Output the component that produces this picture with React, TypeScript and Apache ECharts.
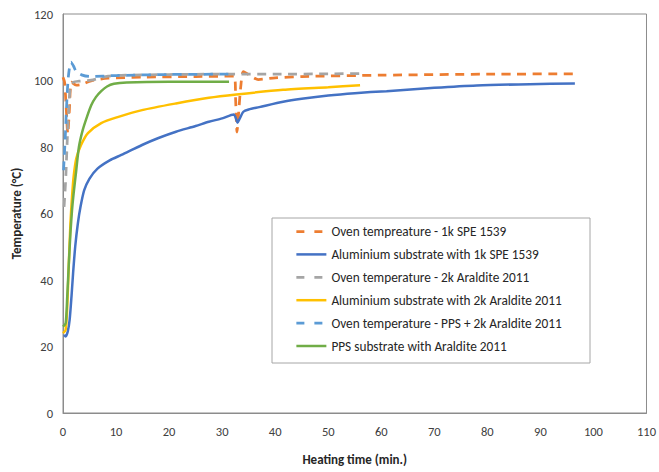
import React, { useEffect, useRef } from "react";
import * as echarts from "echarts";

const FONT = "Carlito, Lato, 'Noto Sans', sans-serif";

// Oven tempreature - 1k SPE 1539
const ovenSpeTime = [0, 0.3, 0.6, 0.9, 1.2, 1.6, 2.5, 3.5, 5.3, 8.5, 15, 25, 32.3, 32.55, 32.8, 33.1, 33.5, 34, 35, 36.8, 40, 45, 60, 80, 97];
const ovenSpeTemp = [101, 99.5, 92, 84, 91, 99.5, 98.6, 98.8, 99.9, 100.7, 101, 101.2, 101.3, 94, 84.5, 90, 98, 102.7, 101.8, 100.3, 100.8, 101.2, 101.6, 101.9, 102];

// Aluminium substrate with 1k SPE 1539
const aluSpeTime = [0.2, 0.5, 0.9, 1.25, 1.6, 1.9, 2.3, 2.8, 3.3, 4, 5, 6.5, 8.8, 11, 14.9, 18, 21.3, 25, 27.5, 30, 32.2, 32.6, 32.9, 33.3, 34, 35, 37, 41.5, 45, 50, 55, 61, 70, 78, 88, 96.5];
const aluSpeTemp = [23.5, 23, 24.5, 28, 35, 42, 50, 57, 62, 67, 70.5, 73.5, 76, 77.6, 80.6, 82.7, 84.6, 86.3, 87.6, 88.6, 89.8, 88.6, 87.3, 88.5, 90.6, 91.3, 92, 93.6, 94.5, 95.5, 96.2, 96.8, 97.8, 98.5, 98.9, 99.1];

// Oven temperature - 2k Araldite 2011
const ovenAralTime = [0.2, 0.5, 0.8, 1.1, 1.4, 2, 3, 5.3, 8.5, 12, 20, 30, 40, 50, 56.5];
const ovenAralTemp = [62, 70, 82, 92, 98, 99.5, 99.8, 100.1, 101.3, 101.6, 101.8, 101.9, 101.9, 102, 102.1];

// Aluminium substrate with 2k Araldite 2011
const aluAralTime = [0, 0.5, 0.8, 1.1, 1.4, 1.7, 2, 2.5, 3.4, 4.7, 7.2, 10.3, 14.9, 21.3, 27.5, 32.7, 41.5, 50, 56];
const aluAralTemp = [24, 25, 32, 45, 57, 65, 71, 76.5, 80.6, 84.2, 87.2, 89, 91.1, 93.1, 94.8, 95.8, 97.2, 98, 98.6];

// Oven temperature - PPS + 2k Araldite 2011
const ovenPpsTime = [0.1, 0.4, 0.7, 1, 1.5, 2, 2.5, 3.5, 5, 10, 20, 31.5];
const ovenPpsTemp = [73, 82, 93, 101, 105.5, 104.3, 102.7, 101.7, 101.2, 101.5, 101.8, 101.9];

// PPS substrate with Araldite 2011
const ppsTime = [0, 0.5, 0.8, 1.1, 1.4, 1.7, 2, 2.5, 3, 3.7, 4.5, 5.3, 6.2, 7.2, 8.3, 9.6, 12, 20, 31.3];
const ppsTemp = [26, 27, 35, 45, 54, 61, 66, 73, 80, 85, 89, 92.5, 95, 96.8, 98.2, 99, 99.4, 99.6, 99.6];

const legendNames = [
  "Oven tempreature - 1k SPE 1539",
  "Aluminium substrate with 1k SPE 1539",
  "Oven temperature - 2k Araldite 2011",
  "Aluminium substrate with 2k Araldite 2011",
  "Oven temperature - PPS + 2k Araldite 2011",
  "PPS substrate with Araldite 2011",
];
const seriesColors = ["#ED7D31", "#4472C4", "#A5A5A5", "#FFC000", "#5B9BD5", "#70AD47"];
const seriesDashed = [true, false, true, false, true, false];

const zip = (t: number[], v: number[]) => t.map((x, i) => [x, v[i]]);

export default function App() {
  const ref = useRef<HTMLDivElement>(null);
  useEffect(() => {
    if (!ref.current) return;
    const chart = echarts.init(ref.current, undefined, { renderer: "svg" });
    const dash = [9, 6.5];
    const mk = (i: number, data: number[][]) => ({
      name: legendNames[i],
      type: "line",
      data,
      showSymbol: false,
      symbol: "none",
      smooth: 0.25,
      lineStyle: {
        color: seriesColors[i],
        width: seriesDashed[i] ? 2.75 : 2.5,
        type: seriesDashed[i] ? dash : "solid",
      },
      itemStyle: { color: seriesColors[i] },
    });
    chart.setOption({
      animation: false,
      backgroundColor: "#ffffff",
      textStyle: { fontFamily: FONT },
      grid: {
        left: 63,
        right: 7,
        top: 14,
        bottom: 59,
        show: true,
        borderColor: "#8c8c8c",
        borderWidth: 1,
        containLabel: false,
      },
      xAxis: {
        type: "value",
        min: 0,
        max: 110,
        interval: 10,
        name: "Heating time (min.)",
        nameLocation: "middle",
        nameGap: 40,
        nameTextStyle: { fontFamily: FONT, fontSize: 13, fontWeight: "bold", color: "#262626" },
        axisLine: { show: true, lineStyle: { color: "#8c8c8c", width: 1 } },
        axisTick: { show: false },
        splitLine: { show: false },
        axisLabel: { fontFamily: FONT, fontSize: 12.5, color: "#404040", margin: 12 },
      },
      yAxis: {
        type: "value",
        min: 0,
        max: 120,
        interval: 20,
        name: "Temperature (°C)",
        nameLocation: "middle",
        nameGap: 37,
        nameRotate: 90,
        nameTextStyle: { fontFamily: FONT, fontSize: 13, fontWeight: "bold", color: "#262626" },
        axisLine: { show: true, lineStyle: { color: "#8c8c8c", width: 1 } },
        axisTick: { show: false },
        splitLine: { show: false },
        axisLabel: { fontFamily: FONT, fontSize: 12.5, color: "#404040", margin: 10 },
      },
      legend: {
        show: true,
        orient: "vertical",
        left: 295,
        top: 225,
        padding: 0,
        itemWidth: 30,
        itemHeight: 14,
        itemGap: 9.9,
        itemStyle: { opacity: 0 },
        data: legendNames.map((n, i) => ({
          name: n,
          itemStyle: { opacity: 0 },
          lineStyle: seriesDashed[i]
            ? { type: [8, 10], width: 2.75, color: seriesColors[i] }
            : { type: "solid", width: 2.5, color: seriesColors[i] },
        })),
        textStyle: { fontFamily: FONT, fontSize: 13.3, color: "#262626" },
      },
      graphic: [
        {
          type: "rect",
          shape: { x: 272, y: 218, width: 318, height: 145 },
          style: { fill: "#ffffff", stroke: "#a6a6a6", lineWidth: 1 },
          z: 0,
          zlevel: 0,
        },
      ],
      series: [
        mk(0, zip(ovenSpeTime, ovenSpeTemp)),
        mk(1, zip(aluSpeTime, aluSpeTemp)),
        mk(2, zip(ovenAralTime, ovenAralTemp)),
        mk(3, zip(aluAralTime, aluAralTemp)),
        mk(4, zip(ovenPpsTime, ovenPpsTemp)),
        mk(5, zip(ppsTime, ppsTemp)),
      ],
    });
    return () => chart.dispose();
  }, []);
  return <div ref={ref} style={{ width: 659, height: 472, position: "absolute", left: 0, top: 0 }} />;
}
